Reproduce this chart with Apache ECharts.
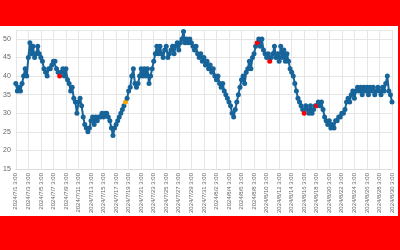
<!DOCTYPE html>
<html>
<head>
<meta charset="utf-8">
<script src="https://cdn.jsdelivr.net/npm/echarts@6/dist/echarts.min.js"></script>
<style>
html,body{margin:0;padding:0;width:400px;height:250px;background:#ff0000;overflow:hidden;}
#chart{position:absolute;left:0;top:26px;width:398px;height:190px;background:#ffffff;}
</style>
</head>
<body>
<div id="chart"></div>
<script>
// Start of the category series: 2024/7/1 3:00, one point every 6 hours
const startYear = 2024, startMonth = 7, startDay = 1, startHour = 3, stepHours = 6;

const values = [
  38,36,37,36,38,40,42,40,45,49,
  46,48,45,46,48,46,45,44,42,41,
  40,42,42,43,44,44,42,41,40,41,
  42,40,42,39,38,36,37,34,33,30,
  33,34,32,29,27,26,25,26,28,29,
  27,29,28,29,29,30,29,30,30,29,
  28,26,24,26,27,28,29,30,31,32,
  33,34,36,37,40,42,38,37,38,40,
  42,40,42,40,42,38,40,42,44,46,
  48,46,48,46,45,47,48,45,46,47,
  48,46,48,49,47,49,50,52,49,50,
  49,50,49,48,47,48,46,45,46,44,
  45,43,44,42,43,41,42,40,39,40,
  38,37,38,36,35,34,33,32,30,29,
  31,33,35,37,39,40,38,41,42,44,
  42,45,46,48,49,50,48,50,47,46,
  45,46,44,45,46,48,45,46,44,48,
  45,47,44,46,44,42,41,40,38,36,
  34,33,32,31,30,32,31,30,32,30,
  31,32,32,33,32,33,31,29,28,27,
  28,26,27,26,28,28,29,29,30,30,
  31,33,34,33,35,36,34,36,37,36,
  37,35,37,36,37,35,37,36,37,35,
  36,37,36,35,37,36,38,40,36,35,
  33
];

// highlighted points: index and colour
const redPoints = [28, 154, 162, 184, 192];
const orangePoints = [70];

const yTicks = [15, 20, 25, 30, 35, 40, 45, 50];

const categories = [];
{
  const d = new Date(startYear, startMonth - 1, startDay, startHour, 0, 0);
  for (let i = 0; i < values.length; i++) {
    const t = new Date(d.getTime() + i * stepHours * 3600 * 1000);
    categories.push(t.getFullYear() + '/' + (t.getMonth() + 1) + '/' + t.getDate() + ' ' + t.getHours() + ':00');
  }
}

const seriesData = values.map((v, i) => {
  if (redPoints.includes(i)) return { value: v, itemStyle: { color: '#ff0000' } };
  if (orangePoints.includes(i)) return { value: v, itemStyle: { color: '#ffa500' } };
  return v;
});

const chart = echarts.init(document.getElementById('chart'), null, { renderer: 'canvas' });
chart.setOption({
  animation: false,
  grid: { left: 14, right: 6, top: 4, bottom: 44, containLabel: false },
  xAxis: {
    type: 'category',
    data: categories,
    boundaryGap: false,
    axisLine: { show: true, lineStyle: { color: '#dddddd' } },
    axisTick: { show: false },
    axisLabel: { interval: 7, rotate: 90, fontSize: 6, color: '#666666', margin: 4, fontFamily: 'Liberation Sans' },
    splitLine: { show: true, interval: 7, lineStyle: { color: '#e6e6e6', width: 1 } }
  },
  yAxis: {
    type: 'value',
    min: yTicks[0],
    max: 52.4,
    interval: 5,
    axisLine: { show: false },
    axisTick: { show: false },
    axisLabel: { fontSize: 7, color: '#666666', margin: 5, showMaxLabel: false, fontFamily: 'Liberation Sans' },
    splitLine: { show: true, lineStyle: { color: '#e6e6e6', width: 1 } }
  },
  series: [{
    type: 'line',
    data: seriesData,
    showAllSymbol: true,
    symbol: 'circle',
    symbolSize: 5,
    lineStyle: { color: '#16649a', width: 2 },
    itemStyle: { color: '#16649a' }
  }]
});
</script>
</body>
</html>
